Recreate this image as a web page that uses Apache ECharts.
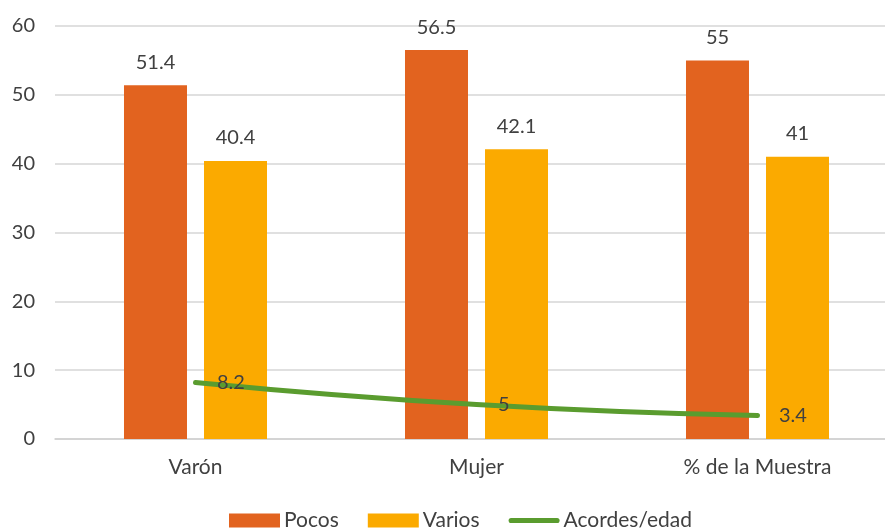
<!DOCTYPE html>
<html><head><meta charset="utf-8">
<script src="https://cdn.jsdelivr.net/npm/echarts@6/dist/echarts.min.js"></script>
<style>html,body{margin:0;padding:0;background:#fff}#c{width:885px;height:528px}</style>
</head><body><div id="c"></div>
<script>
const categories = ['Varón', 'Mujer', '% de la Muestra'];
const pocos = [51.4, 56.5, 55];
const varios = [40.4, 42.1, 41];
const acordes = [8.2, 5, 3.4];
const yTicks = [0, 10, 20, 30, 40, 50, 60];

const font = 'Lato, "Open Sans", sans-serif';
const chart = echarts.init(document.getElementById('c'));
chart.setOption({
  animation: false,
  textStyle: { fontFamily: font },
  grid: { left: 55, width: 843, top: 26, bottom: 89, containLabel: false, outerBoundsMode: 'none' },
  legend: {
    top: 510, left: 229, padding: 0, itemWidth: 51, itemHeight: 14, itemGap: 29,
    textStyle: { fontSize: 21, color: '#404040', fontFamily: font, padding: [0, 0, 0, -1] },
    data: [
      { name: 'Pocos', icon: 'rect' },
      { name: 'Varios', icon: 'rect' },
      { name: 'Acordes/edad', icon: 'path://M2.5,0 L47.5,0 A2.5,2.5 0 0 1 47.5,5 L2.5,5 A2.5,2.5 0 0 1 2.5,0 Z', itemStyle: { color: '#5A9C2F' } }
    ]
  },
  xAxis: {
    type: 'category', data: categories,
    axisLine: { lineStyle: { color: '#d0d0d0', width: 1.5 } },
    axisTick: { show: false },
    axisLabel: { fontSize: 21, color: '#404040', margin: 18, fontFamily: font }
  },
  yAxis: {
    type: 'value', min: yTicks[0], max: yTicks[yTicks.length - 1], interval: 10,
    axisLine: { show: false }, axisTick: { show: false },
    axisLabel: { fontSize: 20, color: '#404040', margin: 20, fontFamily: font },
    splitLine: { lineStyle: { color: '#d6d6d6', width: 1.5 } }
  },
  series: [
    { name: 'Pocos', type: 'bar', data: pocos, barWidth: 63, barGap: '27%',
      itemStyle: { color: '#E2631F' },
      label: { show: true, position: 'top', distance: 13, fontSize: 20, color: '#404040', fontFamily: font } },
    { name: 'Varios', type: 'bar', data: varios, barWidth: 63,
      itemStyle: { color: '#FBAA00' },
      label: { show: true, position: 'top', distance: 13, fontSize: 20, color: '#404040', fontFamily: font } },
    { name: 'Acordes/edad', type: 'line', data: acordes, smooth: true,
      symbol: 'circle', symbolSize: 1, showSymbol: true,
      lineStyle: { color: '#5A9C2F', width: 5, cap: 'round' },
      itemStyle: { color: '#5A9C2F' },
      label: { show: true, position: 'right', distance: 21, fontSize: 20, color: '#404040', fontFamily: font } }
  ]
});
</script></body></html>
